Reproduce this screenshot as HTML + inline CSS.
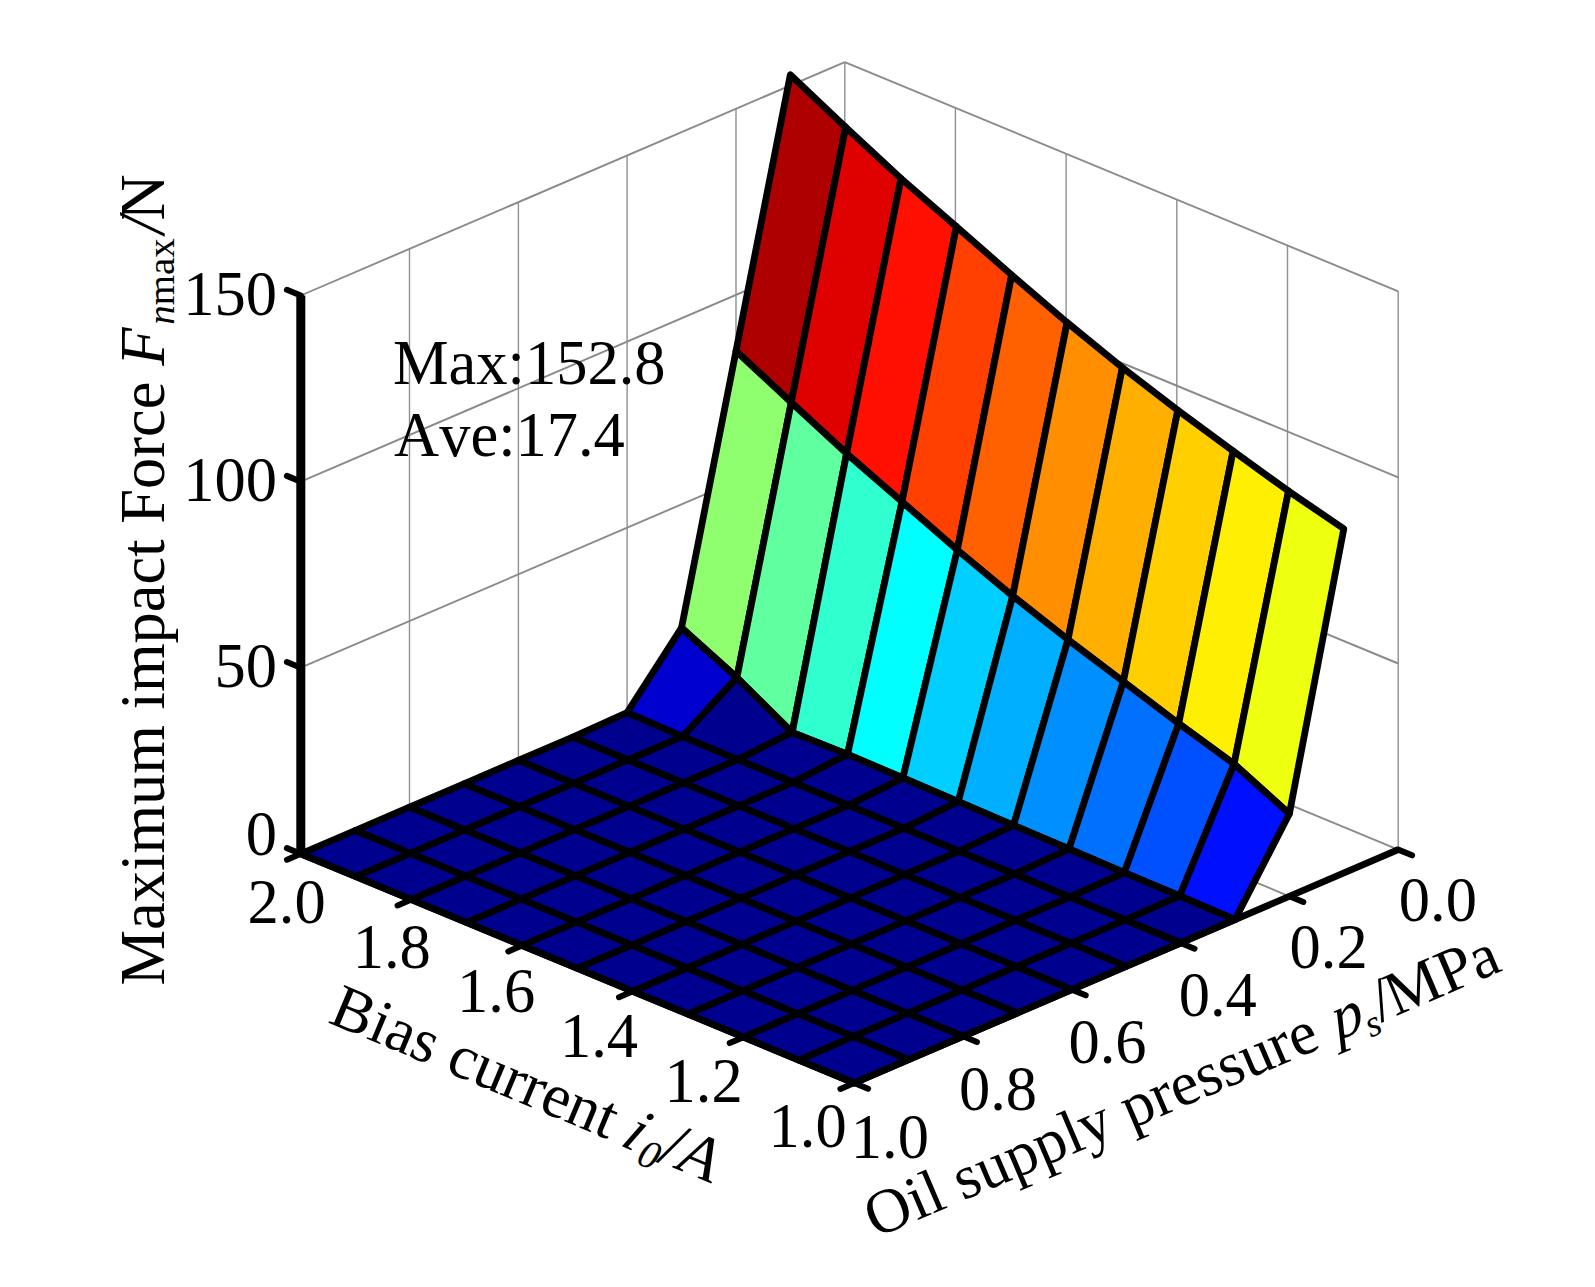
<!DOCTYPE html>
<html lang="en">
<head>
<meta charset="utf-8">
<title>Maximum impact force surface</title>
<style>html,body{margin:0;padding:0;background:#fff}body{width:1595px;height:1287px;overflow:hidden}svg{display:block}</style>
</head>
<body>
<svg width="1595" height="1287" viewBox="0 0 1595 1287">
<rect width="1595" height="1287" fill="#fff"/>
<path d="M844.8,620.4L844.8,62.1M736,667.1L736,108.8M627.1,713.8L627.1,155.5M518.4,760.4L518.4,202.1M409.5,807.1L409.5,248.8M300.8,853.8L300.8,295.5M1398.2,849.6L1398.2,291.3M1287.5,803.8L1287.5,245.5M1176.8,757.9L1176.8,199.6M1066.1,712.1L1066.1,153.8M955.4,666.2L955.4,107.9" fill="none" stroke="#909090" stroke-width="1.4"/>
<path d="M844.8,620.4L300.8,853.8M844.8,434.3L300.8,667.7M844.8,248.2L300.8,481.6M844.8,62.1L300.8,295.5M1398.2,849.6L844.8,620.4M1398.2,663.5L844.8,434.3M1398.2,477.4L844.8,248.2M1398.2,291.3L844.8,62.1M1289.4,896.3L736,667.1M1180.6,943L627.1,713.8M1071.8,989.6L518.4,760.4M963,1036.3L409.5,807.1M1287.5,803.8L743.5,1037.2M1176.8,757.9L632.8,991.3M1066.1,712.1L522.1,945.5M955.4,666.2L411.4,899.6" fill="none" stroke="#8a8a8a" stroke-width="1.9"/>
<g stroke="#000" stroke-width="6.8" stroke-linejoin="round">
<path d="M845.7,127.2L790.3,74.8L736,351.1L791.3,402.4Z" fill="#af0000"/>
<path d="M901,178.5L845.7,127.2L791.3,402.4L846.6,453.6Z" fill="#df0000"/>
<path d="M956.4,226.6L901,178.5L846.6,453.6L902,501.8Z" fill="#ff1000"/>
<path d="M1011.7,275L956.4,226.6L902,501.8L957.3,550Z" fill="#ff4000"/>
<path d="M1067.1,322.5L1011.7,275L957.3,550L1012.7,596.1Z" fill="#ff6000"/>
<path d="M1122.4,367.6L1067.1,322.5L1012.7,596.1L1068,639.7Z" fill="#ff8f00"/>
<path d="M1177.8,410.3L1122.4,367.6L1068,639.7L1123.4,681.6Z" fill="#ffaf00"/>
<path d="M1233.1,451.1L1177.8,410.3L1123.4,681.6L1178.7,723.6Z" fill="#ffcf00"/>
<path d="M1288.5,491.1L1233.1,451.1L1178.7,723.6L1234.1,764Z" fill="#ffef00"/>
<path d="M1343.8,528.8L1288.5,491.1L1234.1,764L1289.4,813.7Z" fill="#efff10"/>
<path d="M791.3,402.4L736,351.1L681.5,627.9L736.9,677.6Z" fill="#8fff70"/>
<path d="M846.6,453.6L791.3,402.4L736.9,677.6L792.2,732.5Z" fill="#60ff9f"/>
<path d="M902,501.8L846.6,453.6L792.2,732.5L847.6,754.3Z" fill="#30ffcf"/>
<path d="M957.3,550L902,501.8L847.6,754.3L902.9,778Z" fill="#00ffff"/>
<path d="M1012.7,596.1L957.3,550L902.9,778L958.3,801.7Z" fill="#00cfff"/>
<path d="M1068,639.7L1012.7,596.1L958.3,801.7L1013.6,825.3Z" fill="#00afff"/>
<path d="M1123.4,681.6L1068,639.7L1013.6,825.3L1069,849Z" fill="#008fff"/>
<path d="M1178.7,723.6L1123.4,681.6L1069,849L1124.3,872.7Z" fill="#0070ff"/>
<path d="M1234.1,764L1178.7,723.6L1124.3,872.7L1179.7,896Z" fill="#0050ff"/>
<path d="M1289.4,813.7L1234.1,764L1179.7,896L1235,919.6Z" fill="#0010ff"/>
<path d="M736.9,677.6L681.5,627.9L627.1,712.6L682.5,736.7Z" fill="#0000cf"/>
<path d="M792.2,732.5L736.9,677.6L682.5,736.7L737.8,759.6Z" fill="#00008f"/>
<path d="M847.6,754.3L792.2,732.5L737.8,759.6L793.2,782.5Z" fill="#00008f"/>
<path d="M902.9,778L847.6,754.3L793.2,782.5L848.5,805.4Z" fill="#00008f"/>
<path d="M958.3,801.7L902.9,778L848.5,805.4L903.9,828.4Z" fill="#00008f"/>
<path d="M1013.6,825.3L958.3,801.7L903.9,828.4L959.2,851.3Z" fill="#00008f"/>
<path d="M1069,849L1013.6,825.3L959.2,851.3L1014.6,874.2Z" fill="#00008f"/>
<path d="M1124.3,872.7L1069,849L1014.6,874.2L1069.9,897.1Z" fill="#00008f"/>
<path d="M1179.7,896L1124.3,872.7L1069.9,897.1L1125.3,920Z" fill="#00008f"/>
<path d="M1235,919.6L1179.7,896L1125.3,920L1180.6,943Z" fill="#00008f"/>
<path d="M682.5,736.7L627.1,712.6L572.8,737.1L628.1,760Z" fill="#00008f"/>
<path d="M737.8,759.6L682.5,736.7L628.1,760L683.4,782.9Z" fill="#00008f"/>
<path d="M793.2,782.5L737.8,759.6L683.4,782.9L738.8,805.9Z" fill="#00008f"/>
<path d="M848.5,805.4L793.2,782.5L738.8,805.9L794.1,828.8Z" fill="#00008f"/>
<path d="M903.9,828.4L848.5,805.4L794.1,828.8L849.5,851.7Z" fill="#00008f"/>
<path d="M959.2,851.3L903.9,828.4L849.5,851.7L904.8,874.6Z" fill="#00008f"/>
<path d="M1014.6,874.2L959.2,851.3L904.8,874.6L960.2,897.5Z" fill="#00008f"/>
<path d="M1069.9,897.1L1014.6,874.2L960.2,897.5L1015.5,920.5Z" fill="#00008f"/>
<path d="M1125.3,920L1069.9,897.1L1015.5,920.5L1070.9,943.4Z" fill="#00008f"/>
<path d="M1180.6,943L1125.3,920L1070.9,943.4L1126.2,966.3Z" fill="#00008f"/>
<path d="M628.1,760L572.8,737.1L518.3,760.4L573.7,783.4Z" fill="#00008f"/>
<path d="M683.4,782.9L628.1,760L573.7,783.4L629,806.3Z" fill="#00008f"/>
<path d="M738.8,805.9L683.4,782.9L629,806.3L684.4,829.2Z" fill="#00008f"/>
<path d="M794.1,828.8L738.8,805.9L684.4,829.2L739.7,852.1Z" fill="#00008f"/>
<path d="M849.5,851.7L794.1,828.8L739.7,852.1L795.1,875Z" fill="#00008f"/>
<path d="M904.8,874.6L849.5,851.7L795.1,875L850.4,898Z" fill="#00008f"/>
<path d="M960.2,897.5L904.8,874.6L850.4,898L905.8,920.9Z" fill="#00008f"/>
<path d="M1015.5,920.5L960.2,897.5L905.8,920.9L961.1,943.8Z" fill="#00008f"/>
<path d="M1070.9,943.4L1015.5,920.5L961.1,943.8L1016.5,966.7Z" fill="#00008f"/>
<path d="M1126.2,966.3L1070.9,943.4L1016.5,966.7L1071.8,989.6Z" fill="#00008f"/>
<path d="M573.7,783.4L518.3,760.4L464,783.8L519.3,806.7Z" fill="#00008f"/>
<path d="M629,806.3L573.7,783.4L519.3,806.7L574.6,829.6Z" fill="#00008f"/>
<path d="M684.4,829.2L629,806.3L574.6,829.6L630,852.5Z" fill="#00008f"/>
<path d="M739.7,852.1L684.4,829.2L630,852.5L685.3,875.5Z" fill="#00008f"/>
<path d="M795.1,875L739.7,852.1L685.3,875.5L740.7,898.4Z" fill="#00008f"/>
<path d="M850.4,898L795.1,875L740.7,898.4L796,921.3Z" fill="#00008f"/>
<path d="M905.8,920.9L850.4,898L796,921.3L851.4,944.2Z" fill="#00008f"/>
<path d="M961.1,943.8L905.8,920.9L851.4,944.2L906.7,967.1Z" fill="#00008f"/>
<path d="M1016.5,966.7L961.1,943.8L906.7,967.1L962.1,990.1Z" fill="#00008f"/>
<path d="M1071.8,989.6L1016.5,966.7L962.1,990.1L1017.4,1013Z" fill="#00008f"/>
<path d="M519.3,806.7L464,783.8L409.5,807.1L464.9,830Z" fill="#00008f"/>
<path d="M574.6,829.6L519.3,806.7L464.9,830L520.2,853Z" fill="#00008f"/>
<path d="M630,852.5L574.6,829.6L520.2,853L575.6,875.9Z" fill="#00008f"/>
<path d="M685.3,875.5L630,852.5L575.6,875.9L630.9,898.8Z" fill="#00008f"/>
<path d="M740.7,898.4L685.3,875.5L630.9,898.8L686.3,921.7Z" fill="#00008f"/>
<path d="M796,921.3L740.7,898.4L686.3,921.7L741.6,944.6Z" fill="#00008f"/>
<path d="M851.4,944.2L796,921.3L741.6,944.6L797,967.6Z" fill="#00008f"/>
<path d="M906.7,967.1L851.4,944.2L797,967.6L852.3,990.5Z" fill="#00008f"/>
<path d="M962.1,990.1L906.7,967.1L852.3,990.5L907.7,1013.4Z" fill="#00008f"/>
<path d="M1017.4,1013L962.1,990.1L907.7,1013.4L963,1036.3Z" fill="#00008f"/>
<path d="M464.9,830L409.5,807.1L355.1,830.5L410.5,853.4Z" fill="#00008f"/>
<path d="M520.2,853L464.9,830L410.5,853.4L465.8,876.3Z" fill="#00008f"/>
<path d="M575.6,875.9L520.2,853L465.8,876.3L521.2,899.2Z" fill="#00008f"/>
<path d="M630.9,898.8L575.6,875.9L521.2,899.2L576.5,922.1Z" fill="#00008f"/>
<path d="M686.3,921.7L630.9,898.8L576.5,922.1L631.9,945.1Z" fill="#00008f"/>
<path d="M741.6,944.6L686.3,921.7L631.9,945.1L687.2,968Z" fill="#00008f"/>
<path d="M797,967.6L741.6,944.6L687.2,968L742.6,990.9Z" fill="#00008f"/>
<path d="M852.3,990.5L797,967.6L742.6,990.9L797.9,1013.8Z" fill="#00008f"/>
<path d="M907.7,1013.4L852.3,990.5L797.9,1013.8L853.3,1036.7Z" fill="#00008f"/>
<path d="M963,1036.3L907.7,1013.4L853.3,1036.7L908.6,1059.7Z" fill="#00008f"/>
<path d="M410.5,853.4L355.1,830.5L300.8,853.8L356.1,876.7Z" fill="#00008f"/>
<path d="M465.8,876.3L410.5,853.4L356.1,876.7L411.4,899.6Z" fill="#00008f"/>
<path d="M521.2,899.2L465.8,876.3L411.4,899.6L466.8,922.6Z" fill="#00008f"/>
<path d="M576.5,922.1L521.2,899.2L466.8,922.6L522.1,945.5Z" fill="#00008f"/>
<path d="M631.9,945.1L576.5,922.1L522.1,945.5L577.5,968.4Z" fill="#00008f"/>
<path d="M687.2,968L631.9,945.1L577.5,968.4L632.8,991.3Z" fill="#00008f"/>
<path d="M742.6,990.9L687.2,968L632.8,991.3L688.2,1014.2Z" fill="#00008f"/>
<path d="M797.9,1013.8L742.6,990.9L688.2,1014.2L743.5,1037.2Z" fill="#00008f"/>
<path d="M853.3,1036.7L797.9,1013.8L743.5,1037.2L798.9,1060.1Z" fill="#00008f"/>
<path d="M908.6,1059.7L853.3,1036.7L798.9,1060.1L854.2,1083Z" fill="#00008f"/>
</g>
<g fill="none" stroke="#000"><path d="M300.8,854.8L300.8,295.5" stroke-width="9"/><path d="M1398.2,849.6L854.2,1083L300.8,853.8" stroke-width="6.8" stroke-linejoin="round"/><path d="M300.8,853.8l-13.9,-5.7M300.8,667.7l-13.9,-5.7M300.8,481.6l-13.9,-5.7M300.8,295.5l-13.9,-5.7M854.2,1083l-13.8,5.9M743.5,1037.2l-13.8,5.9M632.8,991.3l-13.8,5.9M522.1,945.5l-13.8,5.9M411.4,899.6l-13.8,5.9M300.8,853.8l-13.8,5.9M1398.2,849.6l13.9,5.7M1289.4,896.3l13.9,5.7M1180.6,943l13.9,5.7M1071.8,989.6l13.9,5.7M963,1036.3l13.9,5.7M854.2,1083l13.9,5.7" stroke-width="6" stroke-linecap="round"/></g>
<g font-family="'Liberation Serif', 'Times New Roman', serif" font-size="62.5" fill="#000" style="font-kerning:none">
<text x="277" y="315" text-anchor="end">150</text>
<text x="277" y="500.6" text-anchor="end">100</text>
<text x="277" y="686.8" text-anchor="end">50</text>
<text x="277" y="855" text-anchor="end">0</text>
<text x="325.7" y="923.2" text-anchor="end">2.0</text>
<text x="430.8" y="968.3" text-anchor="end">1.8</text>
<text x="535.2" y="1012.1" text-anchor="end">1.6</text>
<text x="638" y="1057.2" text-anchor="end">1.4</text>
<text x="742.7" y="1102.4" text-anchor="end">1.2</text>
<text x="846.7" y="1146.9" text-anchor="end">1.0</text>
<text x="928.9" y="1157.5" text-anchor="end">1.0</text>
<text x="1037" y="1110.4" text-anchor="end">0.8</text>
<text x="1146.5" y="1062.6" text-anchor="end">0.6</text>
<text x="1256.8" y="1015.5" text-anchor="end">0.4</text>
<text x="1367.7" y="968.3" text-anchor="end">0.2</text>
<text x="1476.9" y="921.2" text-anchor="end">0.0</text>
<text x="393" y="383.8">Max:152.8</text>
<text x="394" y="456.4">Ave:17.4</text>
<g transform="translate(164.1,985.5) rotate(-90)"><text>Maximum impact Force <tspan font-style="italic">F</tspan></text><text x="660.7" y="10" font-size="38.9"><tspan font-style="italic">n</tspan>max</text><text transform="translate(748.8,0) skewX(-8)" font-size="66.7">/</text><text x="765" font-size="64">N</text></g>
<g transform="translate(328.8,1023.6) rotate(22.7)"><text x="-2.5" y="-0.8" textLength="304.5" lengthAdjust="spacing">Bias current</text><text transform="translate(314.3,0) skewX(-9)" font-style="italic">i</text><text x="336.2" y="10.5" font-size="40" font-style="italic">0</text><text transform="translate(354.6,1) skewX(-4)" font-size="66">/</text><text transform="translate(375.5,0) skewX(4)" font-size="64" font-style="italic">A</text></g>
<g transform="translate(875.2,1238.2) rotate(-23.1)"><text>Oil supply pressure</text><text transform="translate(503.2,0) skewX(-7)" font-style="italic">p</text><text x="534.6" y="10" font-size="37.5" font-style="italic">s</text><text x="549.8">/</text><text x="565.4">MPa</text></g>
</g>
</svg>
</body>
</html>
